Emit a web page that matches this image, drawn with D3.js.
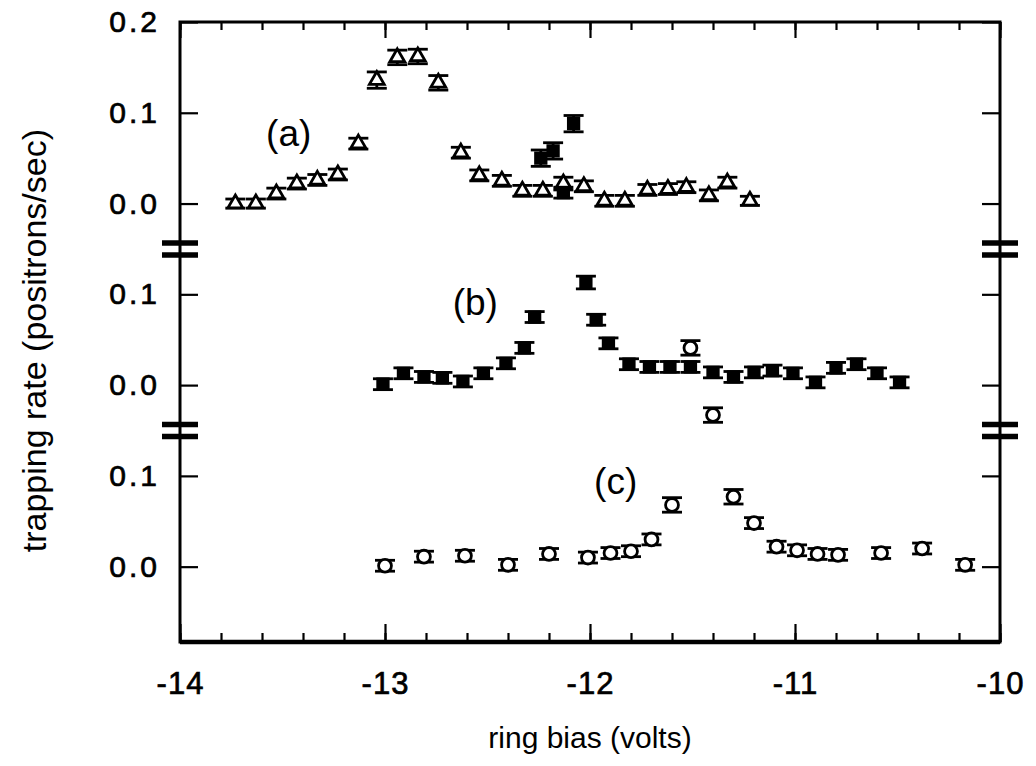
<!DOCTYPE html>
<html>
<head>
<meta charset="utf-8">
<script src="https://cdn.jsdelivr.net/npm/d3@7"></script>
<style>
  body { margin: 0; background: #fff; }
  text { font-family: "Liberation Sans", Arial, sans-serif; fill: #000; }
</style>
</head>
<body>
<div class="chart-container"></div>
<script>
// panel (a): open triangles
const aBias = [-13.73, -13.63, -13.53, -13.43, -13.33, -13.23, -13.13, -13.04, -12.94, -12.84, -12.74, -12.63, -12.54,
  -12.43, -12.33, -12.23, -12.13, -12.03, -11.93, -11.83, -11.72, -11.62, -11.53, -11.42, -11.33, -11.22];
const aRate = [0.000, 0.000, 0.011, 0.022, 0.026, 0.032, 0.066, 0.136, 0.161, 0.162, 0.133, 0.056, 0.031,
  0.025, 0.014, 0.014, 0.022, 0.019, 0.003, 0.003, 0.015, 0.016, 0.018, 0.009, 0.023, 0.003];
const aErr = [0.005, 0.005, 0.006, 0.006, 0.006, 0.006, 0.006, 0.009, 0.008, 0.008, 0.008, 0.006, 0.006,
  0.006, 0.006, 0.006, 0.007, 0.006, 0.006, 0.006, 0.006, 0.006, 0.006, 0.006, 0.006, 0.005];
// filled squares that sit in panel (a)
const aSqBias = [-12.24, -12.18, -12.08, -12.13];
const aSqRate = [0.050, 0.058, 0.088, 0.012];
const aSqErr = [0.009, 0.009, 0.009, 0.006];

// panel (b): filled squares
const bBias = [-13.01, -12.91, -12.81, -12.72, -12.62, -12.52, -12.41, -12.32, -12.27, -12.02, -11.97, -11.91, -11.81,
  -11.71, -11.61, -11.51, -11.40, -11.30, -11.20, -11.11, -11.01, -10.90, -10.80, -10.70, -10.60, -10.49];
const bRate = [0.001, 0.013, 0.009, 0.008, 0.004, 0.013, 0.024, 0.041, 0.075, 0.113, 0.072, 0.046, 0.023,
  0.020, 0.020, 0.020, 0.014, 0.009, 0.014, 0.016, 0.013, 0.003, 0.019, 0.023, 0.013, 0.003];
const bErr = [0.006, 0.006, 0.006, 0.006, 0.006, 0.006, 0.006, 0.006, 0.006, 0.007, 0.006, 0.006, 0.006,
  0.006, 0.006, 0.006, 0.006, 0.006, 0.006, 0.006, 0.006, 0.006, 0.006, 0.006, 0.006, 0.006];
// open circles that sit in panel (b)
const bCircBias = [-11.51, -11.40];
const bCircRate = [0.041, -0.033];
const bCircErr = [0.008, 0.008];

// panel (c): open circles
const cBias = [-13.00, -12.81, -12.61, -12.40, -12.20, -12.01, -11.90, -11.80, -11.70, -11.60, -11.30, -11.20,
  -11.09, -10.99, -10.89, -10.79, -10.58, -10.38, -10.17];
const cRate = [0.001, 0.011, 0.012, 0.002, 0.014, 0.010, 0.015, 0.017, 0.030, 0.068, 0.077, 0.048,
  0.022, 0.018, 0.014, 0.013, 0.015, 0.020, 0.002];
const cErr = [0.006, 0.006, 0.006, 0.006, 0.006, 0.006, 0.006, 0.006, 0.006, 0.008, 0.008, 0.006,
  0.006, 0.006, 0.006, 0.006, 0.006, 0.006, 0.006];

// stacked y axis: each panel is shifted up by 0.2
const panelOffset = { a: 0.4, b: 0.2, c: 0 };
const yTickValues = [0, 0.1, 0.2, 0.3, 0.4, 0.5, 0.6];
const yTickLabels = ["0.0", "0.1", "0.0", "0.1", "0.0", "0.1", "0.2"];
const yBreaks = [0.15, 0.35];
const xMajorTicks = [-14, -13, -12, -11, -10];
const xTickLabels = ["-14", "-13", "-12", "-11", "-10"];
const xMinorTicks = d3.range(-14, -9.99, 0.2);
const panelLabels = ["(a)", "(b)", "(c)"];

const width = 1036, height = 766;
const margin = { top: 22, right: 36, bottom: 124, left: 180 };

const svg = d3.select(".chart-container").append("svg")
  .attr("width", width)
  .attr("height", height)
  .style("background", "#fff");

const x = d3.scaleLinear()
  .domain([-14, -10])
  .range([margin.left, width - margin.right]);

const y = d3.scaleLinear()
  .domain([-0.083, 0.6])
  .range([height - margin.bottom, margin.top]);

const toPoints = (bias, rate, err, off) => bias.map((b, i) => ({ b: b, r: rate[i] + off, e: err[i] }));

// frame
svg.append("rect")
  .attr("x", x(-14)).attr("y", y(0.6))
  .attr("width", x(-10) - x(-14)).attr("height", y(-0.083) - y(0.6))
  .attr("fill", "none").attr("stroke", "#000").attr("stroke-width", 3);
svg.append("line")
  .attr("x1", x(-14)).attr("x2", x(-10))
  .attr("y1", y(-0.083)).attr("y2", y(-0.083))
  .attr("stroke", "#000").attr("stroke-width", 4.5);

function styleAxis(g) {
  g.select(".domain").remove();
  g.selectAll(".tick line").attr("stroke", "#000").attr("stroke-width", 2.2);
}

// bottom axis
svg.append("g")
  .attr("transform", `translate(0, ${y(-0.083)})`)
  .call(d3.axisBottom(x).tickValues(xMinorTicks).tickSize(-9).tickFormat(""))
  .call(styleAxis);
svg.append("g")
  .attr("class", "x-axis")
  .attr("transform", `translate(0, ${y(-0.083)})`)
  .call(d3.axisBottom(x).tickValues(xMajorTicks).tickSize(-18).tickPadding(30)
    .tickFormat((d, i) => xTickLabels[i]))
  .call(styleAxis)
  .selectAll("text")
  .attr("font-size", 31)
  .attr("letter-spacing", 1)
  .attr("stroke", "#000").attr("stroke-width", 0.7);

// top axis
svg.append("g")
  .attr("transform", `translate(0, ${y(0.6)})`)
  .call(d3.axisTop(x).tickValues(xMinorTicks).tickSize(-8).tickFormat(""))
  .call(styleAxis);
svg.append("g")
  .attr("transform", `translate(0, ${y(0.6)})`)
  .call(d3.axisTop(x).tickValues(xMajorTicks).tickSize(-16).tickFormat(""))
  .call(styleAxis);

// left axis
svg.append("g")
  .attr("class", "y-axis")
  .attr("transform", `translate(${x(-14)}, 0)`)
  .call(d3.axisLeft(y).tickValues(yTickValues).tickSize(-18).tickPadding(20)
    .tickFormat((d, i) => yTickLabels[i]))
  .call(styleAxis)
  .selectAll("text")
  .attr("font-size", 30)
  .attr("letter-spacing", 3)
  .attr("stroke", "#000").attr("stroke-width", 0.7);

// right axis
svg.append("g")
  .attr("transform", `translate(${x(-10)}, 0)`)
  .call(d3.axisRight(y).tickValues(yTickValues).tickSize(-18).tickFormat(""))
  .call(styleAxis);

// axis breaks
[x(-14), x(-10)].forEach(ax => {
  yBreaks.forEach(v => {
    [-6, 6].forEach(dy => {
      svg.append("line")
        .attr("x1", ax - 18).attr("x2", ax + 18)
        .attr("y1", y(v) + dy).attr("y2", y(v) + dy)
        .attr("stroke", "#000").attr("stroke-width", 5.5);
    });
  });
});

function drawErrorBars(data) {
  const g = svg.append("g");
  const bars = g.selectAll(".err").data(data).enter().append("g").attr("class", "err");
  bars.append("line")
    .attr("x1", d => x(d.b)).attr("x2", d => x(d.b))
    .attr("y1", d => y(d.r - d.e)).attr("y2", d => y(d.r + d.e));
  bars.append("line")
    .attr("x1", d => x(d.b) - 10).attr("x2", d => x(d.b) + 10)
    .attr("y1", d => y(d.r + d.e)).attr("y2", d => y(d.r + d.e));
  bars.append("line")
    .attr("x1", d => x(d.b) - 10).attr("x2", d => x(d.b) + 10)
    .attr("y1", d => y(d.r - d.e)).attr("y2", d => y(d.r - d.e));
  g.selectAll("line").attr("stroke", "#000").attr("stroke-width", 2.8);
}

function drawMarkers(data, type, size, filled) {
  drawErrorBars(data);
  svg.append("g").selectAll("path")
    .data(data).enter().append("path")
    .attr("transform", d => `translate(${x(d.b)}, ${y(d.r)})`)
    .attr("d", d3.symbol().type(type).size(size))
    .attr("fill", filled ? "#000" : "#fff")
    .attr("stroke", "#000")
    .attr("stroke-width", 2.8);
}

drawMarkers(toPoints(aBias, aRate, aErr, panelOffset.a), d3.symbolTriangle, 95, false);
drawMarkers(toPoints(aSqBias, aSqRate, aSqErr, panelOffset.a), d3.symbolSquare, 110, true);
drawMarkers(toPoints(bBias, bRate, bErr, panelOffset.b), d3.symbolSquare, 110, true);
drawMarkers(toPoints(bCircBias, bCircRate, bCircErr, panelOffset.b), d3.symbolCircle, 130, false);
drawMarkers(toPoints(cBias, cRate, cErr, panelOffset.c), d3.symbolCircle, 130, false);

// panel labels
const labelPos = [[-13.58, 0.463], [-12.67, 0.277], [-11.98, 0.08]];
panelLabels.forEach((t, i) => {
  svg.append("text")
    .attr("x", x(labelPos[i][0])).attr("y", y(labelPos[i][1]))
    .attr("font-size", 37)
    .text(t);
});

// axis titles
svg.append("text")
  .attr("x", (x(-14) + x(-10)) / 2).attr("y", 748)
  .attr("text-anchor", "middle")
  .attr("font-size", 30)
  .text("ring bias (volts)");

svg.append("text")
  .attr("transform", `translate(46, ${y(0.249)}) rotate(-90)`)
  .attr("text-anchor", "middle")
  .attr("font-size", 34)
  .text("trapping rate (positrons/sec)");
</script>
</body>
</html>
